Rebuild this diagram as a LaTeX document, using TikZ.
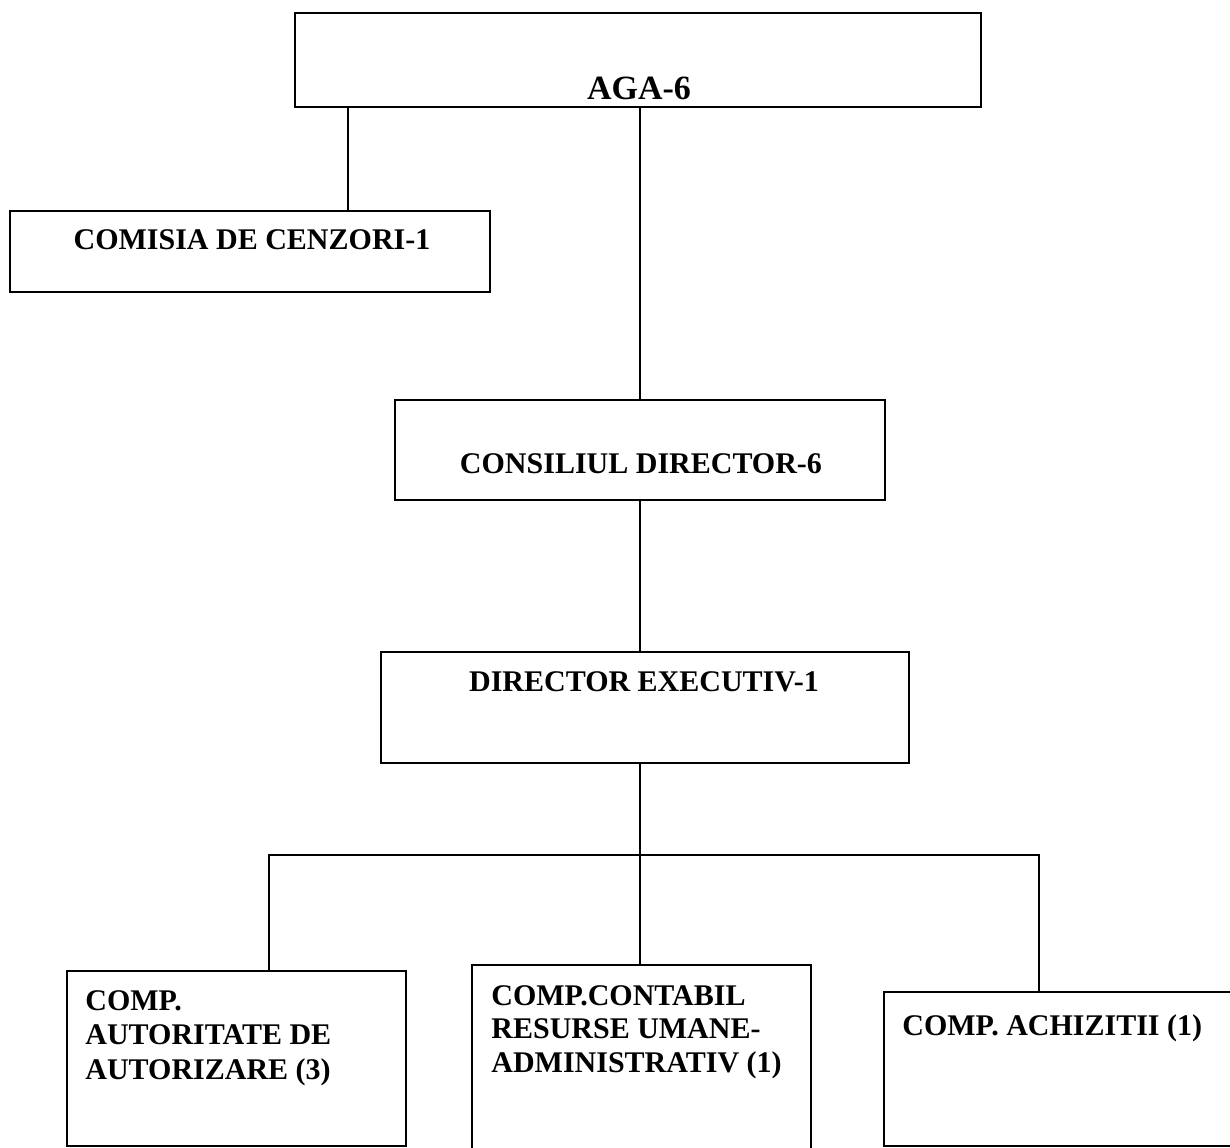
\documentclass[tikz,border=0pt]{standalone}
\usepackage{fontspec}
\setmainfont{Liberation Serif}
\begin{document}
\begin{tikzpicture}[x=0.5pt,y=-0.5pt,
  unitbox/.style={draw, line width=1pt, inner sep=0pt, outer sep=0pt},
  unittext/.style={inner sep=0pt, font=\fontsize{15}{17.2}\selectfont\bfseries},
  link/.style={line width=1pt}]
\useasboundingbox (0,0) rectangle (1230,1147);
\node[unitbox, minimum width=343pt, minimum height=47pt] (aga) at (638,60) {};
\node[unitbox, minimum width=240pt, minimum height=40.5pt] (cenz) at (250,251.5) {};
\node[unitbox, minimum width=245pt, minimum height=50pt] (cons) at (640,450) {};
\node[unitbox, minimum width=264pt, minimum height=55.5pt] (dir) at (645,707.5) {};
\node[unitbox, minimum width=169.5pt, minimum height=87.5pt] (comp1) at (236.5,1058.5) {};
\node[unitbox, minimum width=169.5pt, minimum height=97.5pt] (comp2) at (641.5,1062.5) {};
\node[unitbox, minimum width=178pt, minimum height=77pt] (comp3) at (1062,1069) {};
\node[unittext, anchor=base, font=\fontsize{17}{20}\selectfont\bfseries] (tAga) at (639,99) {AGA-6};
\node[unittext, anchor=base] (tCenz) at (252,249) {COMISIA DE CENZORI-1};
\node[unittext, anchor=base] (tCons) at (641,473) {CONSILIUL DIRECTOR-6};
\node[unittext, anchor=base] (tDir) at (644,691) {DIRECTOR EXECUTIV-1};
\node[unittext, anchor=north west, align=left] (tComp1) at (85,990)
{COMP.\\AUTORITATE DE\\AUTORIZARE (3)};
\node[unittext, anchor=north west, align=left, font=\fontsize{15}{16.8}\selectfont\bfseries] (tComp2) at (491,985)
{COMP.CONTABIL\\RESURSE UMANE-\\ADMINISTRATIV (1)};
\node[unittext, anchor=north west] (tComp3) at (902,1014) {COMP. ACHIZITII (1)};
\coordinate (cenzLink) at (348,0);
\coordinate (bus) at (640,855);
\coordinate (busL) at (269,855);
\coordinate (busR) at (1039,855);
\draw[link] (cenzLink |- aga.south) -- (cenzLink |- cenz.north);
\draw[link] (cons.north |- aga.south) -- (cons.north);
\draw[link] (cons.south) -- (cons.south |- dir.north);
\draw[link] (bus |- dir.south) -- (bus);
\draw[link] (busL |- comp1.north) -- (busL) -- (busR) -- (busR |- comp3.north);
\draw[link] (bus) -- (bus |- comp2.north);
\end{tikzpicture}
\end{document}
